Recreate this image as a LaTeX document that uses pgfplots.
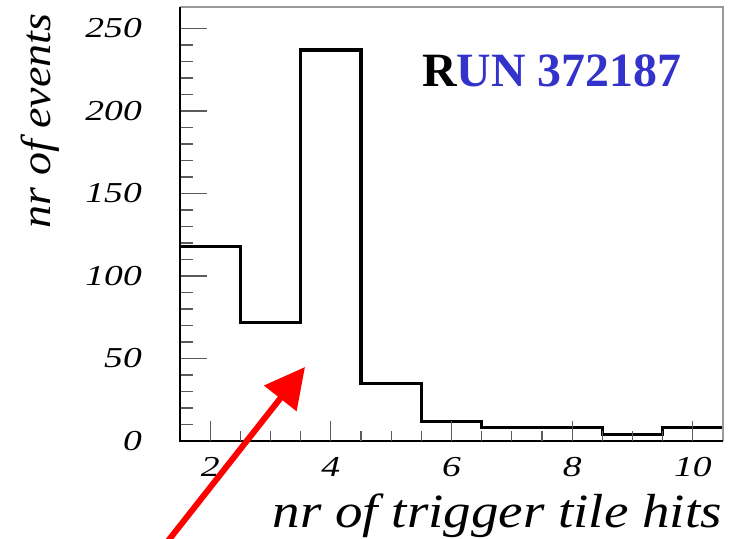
\documentclass[border=0pt]{standalone}
\usepackage{pgfplots}
\pgfplotsset{compat=1.18}
\usepackage{fontspec}
\setmainfont{Liberation Serif}
\usetikzlibrary{arrows.meta}
\definecolor{runblue}{RGB}{51,51,204}
\definecolor{tickgray}{RGB}{90,90,90}
\newcommand\sx[1]{\scalebox{1.3}[1]{#1}}
\begin{document}
\begin{tikzpicture}
\useasboundingbox (-180bp,-98bp) rectangle (549bp,441bp);
\begin{axis}[
  at={(0,0)}, anchor=south west,
  scale only axis, width=543bp, height=434bp,
  xmin=1.5, xmax=10.5, ymin=0, ymax=263,
  axis line style={draw=none},
  tick align=inside, xtick pos=bottom, ytick pos=left,
  xtick=\empty,
  ytick={0,50,100,150,200,250},
  yticklabels={\sx{0},\sx{50},\sx{100},\sx{150},\sx{200},\sx{250}},
  minor y tick num=4,
  major tick length=27bp, minor tick length=13bp,
  tick style={tickgray, line width=1.2bp},
  yticklabel style={font=\itshape\fontsize{29}{29}\selectfont, inner sep=0pt, anchor=east},
  yticklabel shift=38bp,
  clip=false,
]
\addplot[const plot, black, line width=3.2bp] coordinates {
  (1.5,118) (2.5,72) (3.5,237) (4.5,35) (5.5,12) (6.5,8) (7.5,8) (8.5,4) (9.5,8) (10.5,8)
};
\draw[gray!80, line width=1.5bp] (rel axis cs:0,1) -- (rel axis cs:1,1) -- (rel axis cs:1,0);
\draw[black, line width=2bp] (rel axis cs:0,1) -- (rel axis cs:0,0) -- (rel axis cs:1,0);
\end{axis}
\begin{axis}[
  at={(0,0)}, anchor=south west,
  scale only axis, width=543bp, height=434bp,
  xmin=1.5, xmax=10.5, ymin=0, ymax=263,
  axis line style={draw=none},
  tick align=inside, xtick pos=bottom, ytick pos=left,
  ytick=\empty,
  xtick={2,4,6,8,10},
  xticklabels={\sx{2},\sx{4},\sx{6},\sx{8},\sx{10}},
  minor x tick num=3,
  major tick length=20bp, minor tick length=10bp,
  tick style={tickgray, line width=1.2bp},
  xticklabel style={font=\itshape\fontsize{29}{29}\selectfont, inner sep=0pt, anchor=north},
  xticklabel shift=16bp,
]
\end{axis}
\node[rotate=90, inner sep=0pt, anchor=center] at (-140bp,320bp)
  {\scalebox{1.1}[1]{\itshape\fontsize{42}{42}\selectfont nr of events}};
\node[inner sep=0pt, anchor=base east] at (542bp,-86bp)
  {\scalebox{1.15}[1]{\itshape\fontsize{48}{48}\selectfont nr of trigger tile hits}};
\node[inner sep=0pt, anchor=base west] at (242bp,354bp)
  {\bfseries\fontsize{48}{48}\selectfont R\textcolor{runblue}{UN 372187}};
\draw[red, line width=6bp, -{Triangle[length=40bp,width=40bp]}] (-12bp,-100bp) -- (125bp,74bp);
\end{tikzpicture}
\end{document}
